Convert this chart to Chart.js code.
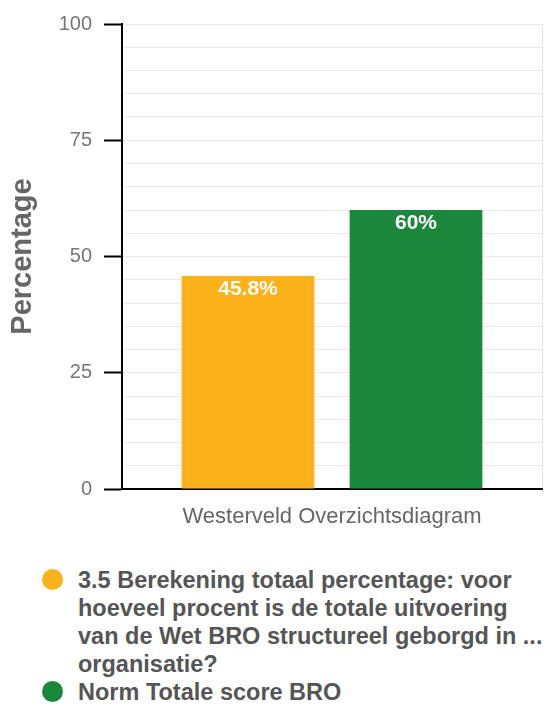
<!DOCTYPE html>
<html>
<head>
<meta charset="utf-8">
<script src="https://cdn.jsdelivr.net/npm/chart.js@4/dist/chart.umd.min.js"></script>
<style>
  html, body { margin: 0; padding: 0; background: #fff; width: 554px; height: 708px; overflow: hidden; }
  #wrap { position: absolute; left: 0; top: 0; width: 554px; height: 545px; }
  #legend { position: absolute; left: 0; top: 566px; width: 554px; font-family: "Liberation Sans", Arial, sans-serif; font-weight: bold; font-size: 23.5px; line-height: 28px; color: #555; }
  .item { position: relative; padding-left: 78px; white-space: nowrap; }
  .dot { position: absolute; left: 42px; top: 3px; width: 21px; height: 21px; border-radius: 50%; }
</style>
</head>
<body>
<div id="wrap"><canvas id="c" width="554" height="545"></canvas></div>
<div id="legend"></div>
<script>
const categories = ['Westerveld Overzichtsdiagram'];
const seriesNames = [
  '3.5 Berekening totaal percentage: voor hoeveel procent is de totale uitvoering van de Wet BRO structureel geborgd in ... organisatie?',
  'Norm Totale score BRO'
];
const legendLines = [
  ['3.5 Berekening totaal percentage: voor', 'hoeveel procent is de totale uitvoering', 'van de Wet BRO structureel geborgd in ...', 'organisatie?'],
  ['Norm Totale score BRO']
];
const orangeValues = [45.8];
const greenValues = [60];
const seriesColors = ['#FDB11A', '#1B873C'];
const yTickLabels = [0, 25, 50, 75, 100];

const FONT = '"Liberation Sans", Arial, sans-serif';

const dataLabelPlugin = {
  id: 'dataLabels',
  afterDatasetsDraw(chart) {
    const ctx = chart.ctx;
    ctx.save();
    ctx.font = 'bold 21px ' + FONT;
    ctx.fillStyle = '#ffffff';
    ctx.textAlign = 'center';
    ctx.textBaseline = 'middle';
    chart.data.datasets.forEach((ds, i) => {
      const meta = chart.getDatasetMeta(i);
      meta.data.forEach((bar, j) => {
        ctx.fillText(ds.data[j] + '%', bar.x, bar.y + 13);
      });
    });
    ctx.restore();
  }
};

new Chart(document.getElementById('c'), {
  type: 'bar',
  data: {
    labels: categories,
    datasets: [
      { label: seriesNames[0], data: orangeValues, backgroundColor: seriesColors[0], categoryPercentage: 0.8, barPercentage: 0.79 },
      { label: seriesNames[1], data: greenValues, backgroundColor: seriesColors[1], categoryPercentage: 0.8, barPercentage: 0.79 }
    ]
  },
  options: {
    responsive: false,
    animation: false,
    layout: { padding: { top: 20, right: 12, left: 0, bottom: 0 } },
    plugins: { legend: { display: false }, tooltip: { enabled: false } },
    scales: {
      x: {
        grid: { color: '#e4e4e4', drawTicks: false, lineWidth: 1 },
        border: { color: '#000', width: 2 },
        ticks: { color: '#666', font: { family: FONT, size: 22 }, padding: 15 },
        afterFit(scale) { scale.height = 56; }
      },
      y: {
        min: 0, max: 100,
        grid: {
          color: '#e8e8e8',
          tickLength: 18,
          tickWidth: 2,
          tickColor: (c) => (c.tick && yTickLabels.includes(c.tick.value)) ? '#000' : 'rgba(0,0,0,0)'
        },
        border: { color: '#000', width: 2 },
        ticks: {
          stepSize: 5,
          autoSkip: false,
          padding: 12,
          color: '#777',
          font: { family: FONT, size: 20 },
          callback: (v) => yTickLabels.includes(v) ? String(v) : ''
        },
        title: { display: true, text: 'Percentage', color: '#666', font: { family: FONT, size: 29, weight: 'bold' }, padding: { top: 6, bottom: 0 } },
        afterFit(scale) { scale.width = 122; }
      }
    }
  },
  plugins: [dataLabelPlugin]
});

const legend = document.getElementById('legend');
legendLines.forEach((lines, i) => {
  const item = document.createElement('div');
  item.className = 'item';
  const dot = document.createElement('span');
  dot.className = 'dot';
  dot.style.background = seriesColors[i];
  item.appendChild(dot);
  lines.forEach((ln, k) => {
    if (k > 0) item.appendChild(document.createElement('br'));
    item.appendChild(document.createTextNode(ln));
  });
  legend.appendChild(item);
});
</script>
</body>
</html>
